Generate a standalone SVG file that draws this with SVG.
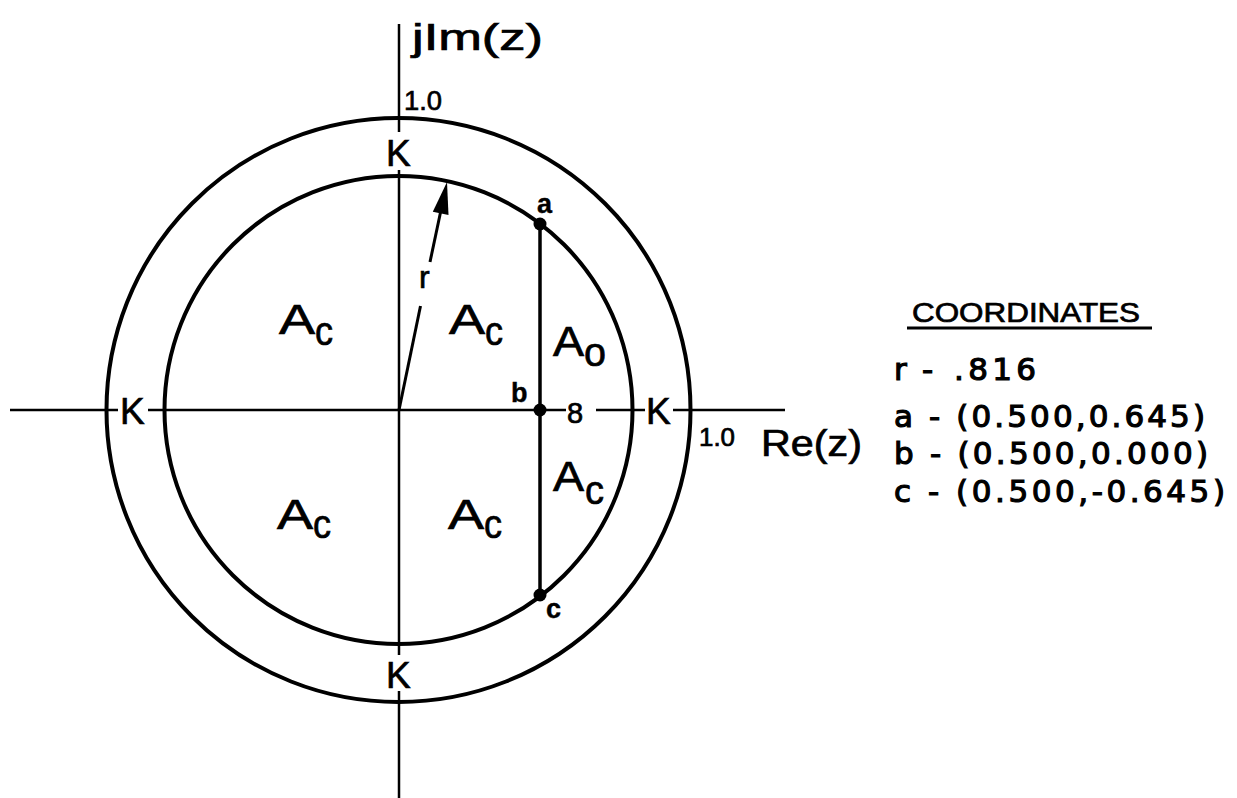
<svg xmlns="http://www.w3.org/2000/svg" width="1237" height="798" viewBox="0 0 1237 798">
<style>
.ln{stroke:#000;fill:none;stroke-linecap:butt}
.ax{stroke-width:2.5}
.cir{stroke-width:4}
.t{font-family:"Liberation Sans","DejaVu Sans",sans-serif;fill:#000;stroke:#000;stroke-width:0.7}
.big{font-size:42px}
.sub{font-size:40px}
.k{font-size:37px}
.pt{font-size:27px;font-weight:bold;stroke-width:0.4}
.co{font-family:"DejaVu Sans","Liberation Sans",sans-serif;font-size:31px;stroke-width:1.2}
</style>
<rect x="0" y="0" width="1237" height="798" fill="#fff"/>
<g id="axes">
  <line class="ln ax" x1="399" y1="24" x2="399" y2="132"/>
  <line class="ln ax" x1="399" y1="170" x2="399" y2="655"/>
  <line class="ln ax" x1="399" y1="691" x2="399" y2="798"/>
  <line class="ln ax" x1="10" y1="410" x2="566" y2="410"/>
  <line class="ln ax" x1="596" y1="410" x2="785" y2="410"/>
</g>
<g id="circles">
  <circle class="ln cir" cx="398.5" cy="410" r="292"/>
  <circle class="ln cir" cx="398.5" cy="410" r="234"/>
</g>
<g id="chord">
  <line class="ln" stroke-width="3.5" x1="540" y1="224" x2="540" y2="595"/>
  <circle cx="540" cy="224" r="6.5" fill="#000"/>
  <circle cx="540" cy="410" r="6.5" fill="#000"/>
  <circle cx="540" cy="595" r="6.5" fill="#000"/>
</g>
<g id="radius">
  <line class="ln" stroke-width="3" x1="399" y1="410" x2="420.5" y2="306"/>
  <line class="ln" stroke-width="3" x1="430" y1="262" x2="441" y2="210"/>
  <polygon points="447,182 448.5,215 432.8,211.7" fill="#000"/>
  <text class="t" x="419" y="288" font-size="32">r</text>
</g>
<g id="labels">
  <text class="t" x="412" y="50" font-size="36" textLength="131" lengthAdjust="spacingAndGlyphs">jIm(z)</text>
  <text class="t" x="404" y="110" font-size="28" textLength="38" lengthAdjust="spacingAndGlyphs">1.0</text>
  <text class="t k" x="386" y="166" font-size="39">K</text>
  <text class="t k" x="386" y="688" font-size="39">K</text>
  <rect x="118" y="396" width="30" height="28" fill="#fff"/>
  <text class="t k" x="120" y="424">K</text>
  <rect x="645" y="396" width="28" height="28" fill="#fff"/>
  <text class="t k" x="646" y="424">K</text>
  <text class="t" x="699" y="446" font-size="25" textLength="36" lengthAdjust="spacingAndGlyphs">1.0</text>
  <text class="t" x="761" y="456" font-size="36" textLength="101" lengthAdjust="spacingAndGlyphs">Re(z)</text>
  <text class="t pt" x="537" y="213">a</text>
  <text class="t pt" x="511" y="402">b</text>
  <text class="t pt" x="546" y="618">c</text>
  <text class="t" x="567" y="423" font-size="29">8</text>
</g>
<g id="regions">
  <text class="t big" x="279" y="334" textLength="36" lengthAdjust="spacingAndGlyphs">A</text><text class="t sub" x="315" y="345" textLength="18" lengthAdjust="spacingAndGlyphs">c</text>
  <text class="t big" x="449" y="334" textLength="36" lengthAdjust="spacingAndGlyphs">A</text><text class="t sub" x="485" y="345" textLength="18" lengthAdjust="spacingAndGlyphs">c</text>
  <text class="t big" x="277" y="529" textLength="36" lengthAdjust="spacingAndGlyphs">A</text><text class="t sub" x="313" y="538" textLength="18" lengthAdjust="spacingAndGlyphs">c</text>
  <text class="t big" x="448" y="529" textLength="36" lengthAdjust="spacingAndGlyphs">A</text><text class="t sub" x="484" y="538" textLength="18" lengthAdjust="spacingAndGlyphs">c</text>
  <text class="t big" x="553" y="356" textLength="31" lengthAdjust="spacingAndGlyphs">A</text><text class="t sub" x="584" y="366" textLength="22" lengthAdjust="spacingAndGlyphs">o</text>
  <text class="t big" x="553" y="491" textLength="31" lengthAdjust="spacingAndGlyphs">A</text><text class="t sub" x="585" y="504" textLength="19" lengthAdjust="spacingAndGlyphs">c</text>
</g>
<g id="legend">
  <text class="t" x="912" y="322" font-size="27" stroke-width="1.1" textLength="228" lengthAdjust="spacingAndGlyphs">COORDINATES</text>
  <line class="ln" stroke-width="3" x1="907" y1="328" x2="1152" y2="328"/>
  <text class="t co" x="894" y="380">r</text>
  <text class="t co" x="922" y="380">-</text>
  <text class="t co" x="954" y="380" textLength="82" lengthAdjust="spacing">.816</text>
  <text class="t co" x="894" y="427" textLength="311" lengthAdjust="spacing">a - (0.500,0.645)</text>
  <text class="t co" x="894" y="464" textLength="314" lengthAdjust="spacing">b - (0.500,0.000)</text>
  <text class="t co" x="894" y="502" textLength="331" lengthAdjust="spacing">c - (0.500,-0.645)</text>
</g>
</svg>
